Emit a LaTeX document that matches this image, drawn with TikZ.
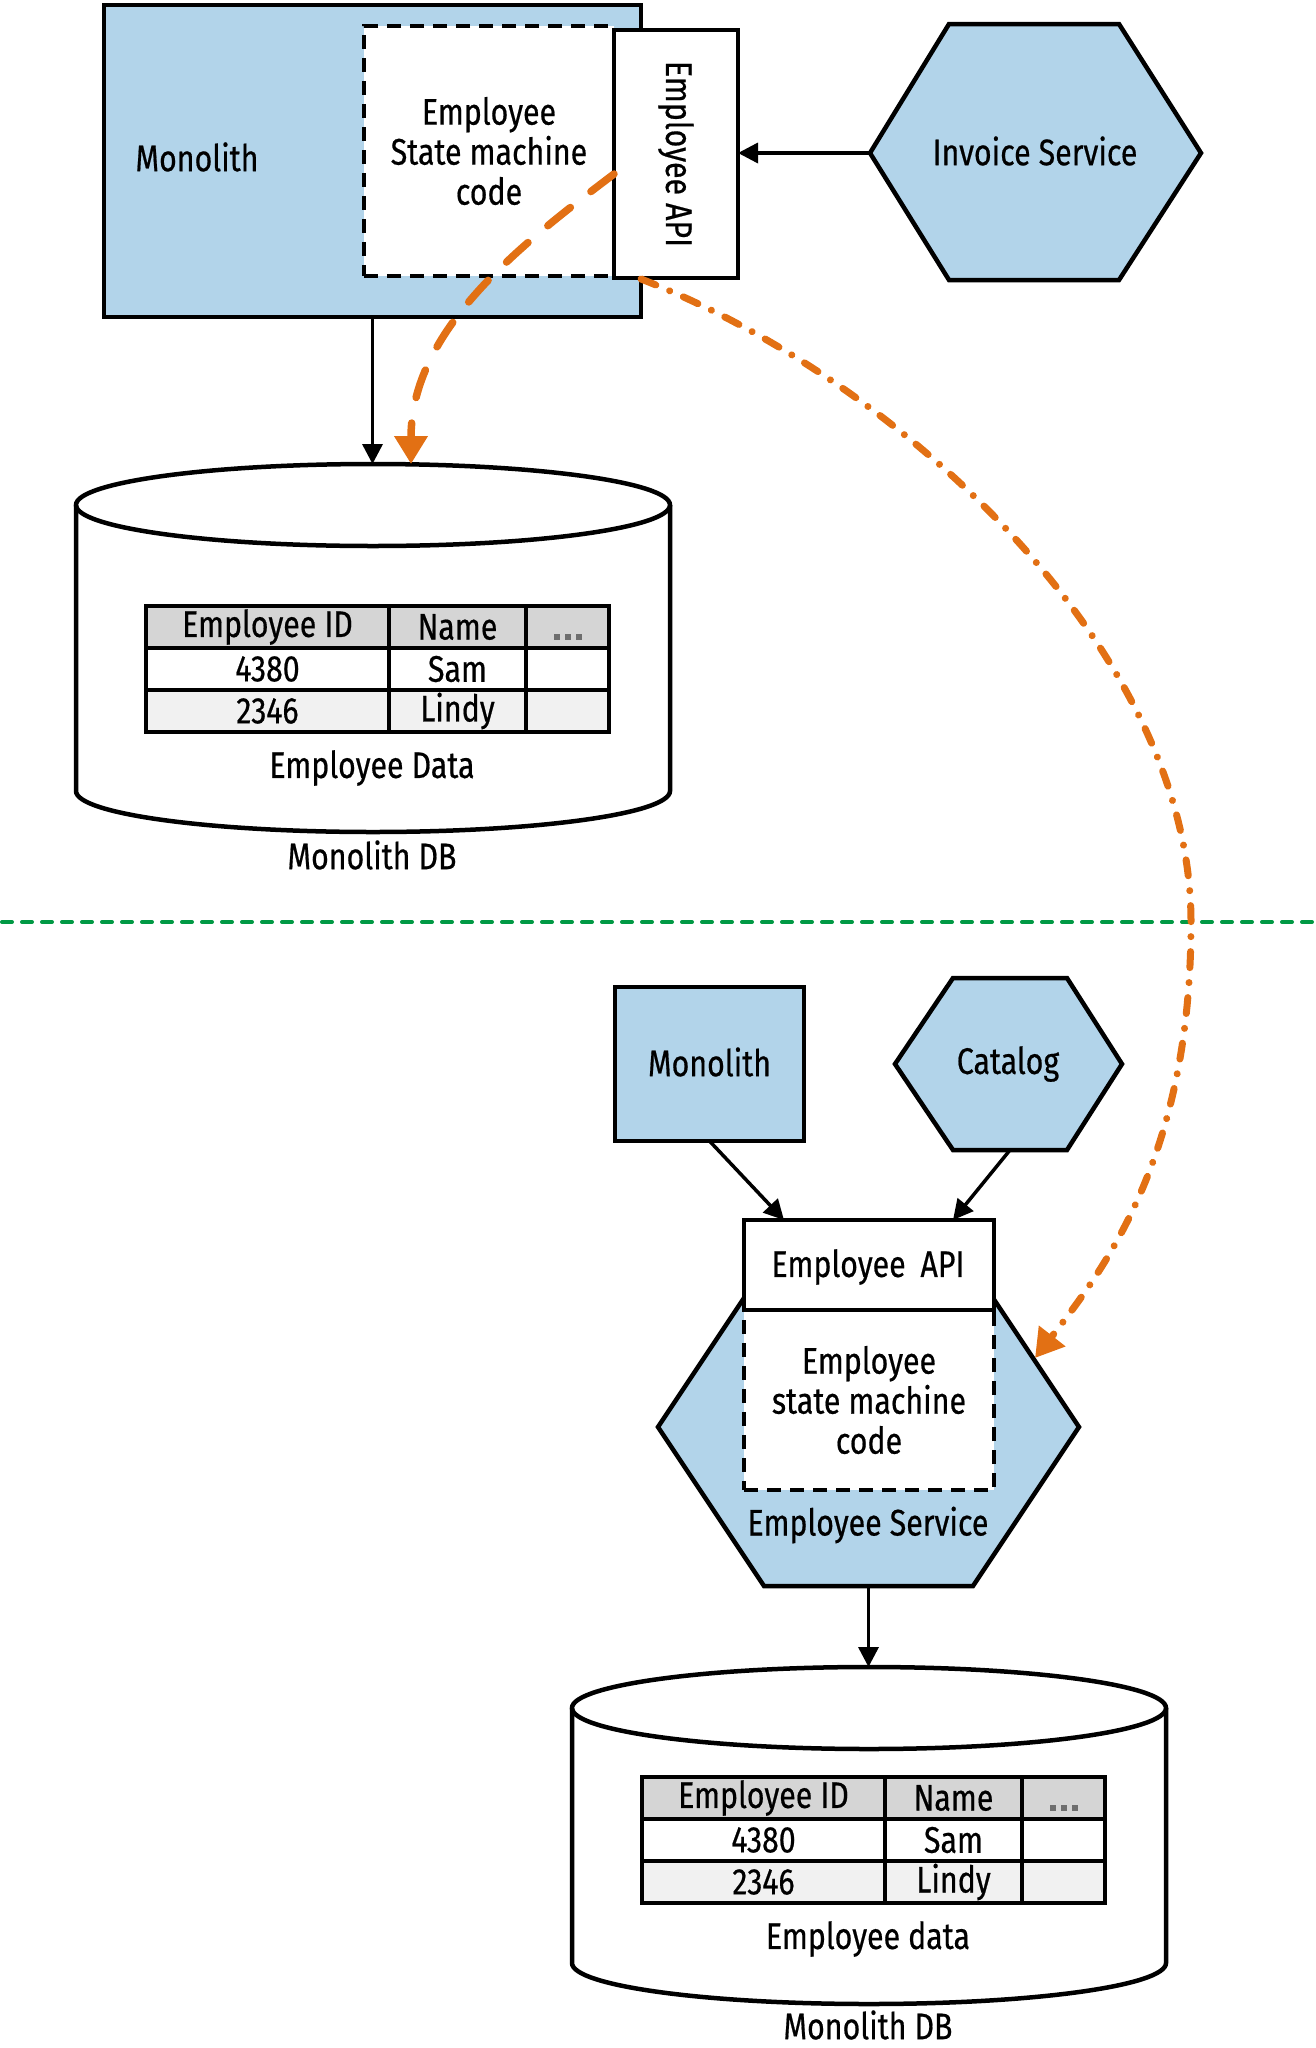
\documentclass[tikz,border=0pt]{standalone}
\usepackage{fontspec}
\setmainfont{Fira Sans}[FakeStretch=0.82,FakeBold=0.5]
\usetikzlibrary{arrows.meta,calc}
\definecolor{boxblue}{RGB}{178,212,234}
\definecolor{orng}{RGB}{226,112,20}
\definecolor{grn}{RGB}{0,153,68}
\definecolor{hdr}{RGB}{213,213,213}
\definecolor{rowg}{RGB}{241,241,241}
\definecolor{dotgray}{RGB}{110,110,110}
\newcommand\graydots{\smash{\raisebox{-13pt}{\textcolor{dotgray}{\rule{6pt}{6pt}\hspace{5pt}\rule{6pt}{6pt}\hspace{5pt}\rule{6pt}{6pt}}}}}
\newcommand\dbtable{%
  \node[cell, fill=hdr,  minimum width=243pt] (h1) at (146,606) {Employee ID};
  \node[cell, fill=hdr,  minimum width=137pt] (h2) at (389,606) {Name};
  \node[cell, fill=hdr,  minimum width=83pt]  (h3) at (526,606) {\graydots};
  \node[cell, fill=white, minimum width=243pt] (a1) at (146,648) {4380};
  \node[cell, fill=white, minimum width=137pt] (a2) at (389,648) {Sam};
  \node[cell, fill=white, minimum width=83pt]  (a3) at (526,648) {};
  \node[cell, fill=rowg, minimum width=243pt] (b1) at (146,690) {2346};
  \node[cell, fill=rowg, minimum width=137pt] (b2) at (389,690) {Lindy};
  \node[cell, fill=rowg, minimum width=83pt]  (b3) at (526,690) {};
}
\begin{document}
\begin{tikzpicture}[x=1pt,y=-1pt,
  txt/.style={font=\fontsize{37}{40}\selectfont, inner sep=0pt, outer sep=0pt, align=center},
  blk/.style={draw=black, line width=4.5pt, line join=miter, outer sep=0pt, inner sep=0pt},
  bluebox/.style={blk, fill=boxblue},
  whitebox/.style={blk, fill=white},
  dashbox/.style={blk, fill=white, dash pattern=on 14pt off 9pt},
  cell/.style={draw=black, line width=4.5pt, anchor=north west, minimum height=42pt, inner sep=0pt, outer sep=0pt, font=\fontsize{37}{40}\selectfont},
  arr/.style={draw=black, line width=3.5pt, -{Triangle[width=20pt,length=20pt]}},
  orangedash/.style={draw=orng, line width=7.5pt, line cap=round, dash pattern=on 29pt off 26pt, -{Triangle[width=32pt,length=28pt]}},
  orangedashdot/.style={draw=orng, line width=7pt, line cap=round, dash pattern=on 16pt off 15pt on 0.01pt off 15pt, -{Triangle[width=32pt,length=28pt]}},
  divider/.style={draw=grn, line width=4pt, line cap=round, dash pattern=on 10pt off 10pt}
]
\useasboundingbox (0,0) rectangle (1315,2048);

% ---------------- top part ----------------
\node[bluebox, minimum width=537pt, minimum height=312pt] (mono1) at (372.5,161) {};
\node[txt] (mono1txt) at (197,157) {Monolith};
\node[dashbox, minimum width=250pt, minimum height=250pt] (sm1) at (489,151) {};
\node[txt] (sm1txt) at (489,151) {Employee\\State machine\\code};
\node[whitebox, minimum width=124pt, minimum height=248pt] (api1) at (676,154) {};
\node[txt, rotate=-90] (api1txt) at (676,154) {Employee API};

% invoice service hexagon
\draw[bluebox] (870,153) -- (949,24) -- (1119,24) -- (1201,153) -- (1119,280) -- (949,280) -- cycle;
\node[txt] (inv) at (1035,151) {Invoice Service};
\coordinate (invw) at (870,153);
\draw[arr] (invw) -- (api1.east |- invw);

% monolith database (top)
\fill[white] (76,505) -- (76,791) arc[start angle=180, end angle=360, x radius=297pt, y radius=41pt] -- (670,505) arc[start angle=0, end angle=180, x radius=297pt, y radius=41pt] -- cycle;
\draw[blk] (76,505) -- (76,791) arc[start angle=180, end angle=360, x radius=297pt, y radius=41pt] -- (670,505);
\draw[blk] (373,505) ellipse[x radius=297pt, y radius=41pt];
\coordinate (db1top) at (372.5,464);
\dbtable
\node[txt] (db1data) at (372,768) {Employee Data};
\node[txt] (db1name) at (372,855) {Monolith DB};

\draw[arr] (mono1.south) -- (db1top);

% green divider
\coordinate (divl) at (2,922);
\coordinate (divr) at (1315,922);
\draw[divider] (divl) -- (divr);

% ---------------- bottom part ----------------
\node[bluebox, minimum width=189pt, minimum height=154pt] (mono2) at (709.5,1064) {};
\node[txt] (mono2txt) at (709.5,1062) {Monolith};

\draw[bluebox] (895,1064) -- (953,978) -- (1067,978) -- (1122,1064) -- (1067,1150) -- (953,1150) -- cycle;
\node[txt] (cat) at (1008,1064) {Catalog};
\coordinate (cats) at (1010,1150);

\draw[bluebox] (658,1427) -- (764,1268) -- (973,1268) -- (1079,1427) -- (973,1586) -- (764,1586) -- cycle;
\coordinate (ess) at (868.5,1586);
\node[dashbox, minimum width=250pt, minimum height=180pt] (sm2) at (869,1400) {};
\node[txt] (sm2txt) at (869,1400) {Employee\\state machine\\code};
\node[whitebox, minimum width=250pt, minimum height=90pt] (api2) at (869,1265) {};
\node[txt] (api2txt) at (868,1267) {Employee\hspace{0.4em}API};
\node[txt] (estxt) at (868,1525) {Employee Service};

\coordinate (api2inl) at (784,1220);
\coordinate (api2inr) at (953,1220);
\draw[arr] (mono2.south) -- (api2inl);
\draw[arr] (cats) -- (api2inr);

% monolith database (bottom)
\fill[white] (572,1708) -- (572,1963) arc[start angle=180, end angle=360, x radius=297pt, y radius=41pt] -- (1166,1708) arc[start angle=0, end angle=180, x radius=297pt, y radius=41pt] -- cycle;
\draw[blk] (572,1708) -- (572,1963) arc[start angle=180, end angle=360, x radius=297pt, y radius=41pt] -- (1166,1708);
\draw[blk] (869,1708) ellipse[x radius=297pt, y radius=41pt];
\coordinate (db2top) at (868.5,1667);
\begin{scope}[shift={(496,1171)}, name prefix=t2-]
\dbtable
\end{scope}
\node[txt] (db2data) at (868,1939) {Employee data};
\node[txt] (db2name) at (868,2025) {Monolith DB};

\draw[arr] (ess) -- (db2top);

% ---------------- orange migration arrows ----------------
\coordinate (o1s) at (614,174);
\coordinate (o1e) at (411,464);
\draw[orangedash] (o1s) .. controls (520,245) and (411,330) .. (o1e);

\coordinate (o2s) at (641,279);
\coordinate (o2m) at (1191,922);
\coordinate (o2e) at (1035,1358);
\draw[orangedashdot] (o2s) .. controls (900,380) and (1191,650) .. (o2m) .. controls (1191,1150) and (1110,1262) .. (o2e);
\end{tikzpicture}
\end{document}
